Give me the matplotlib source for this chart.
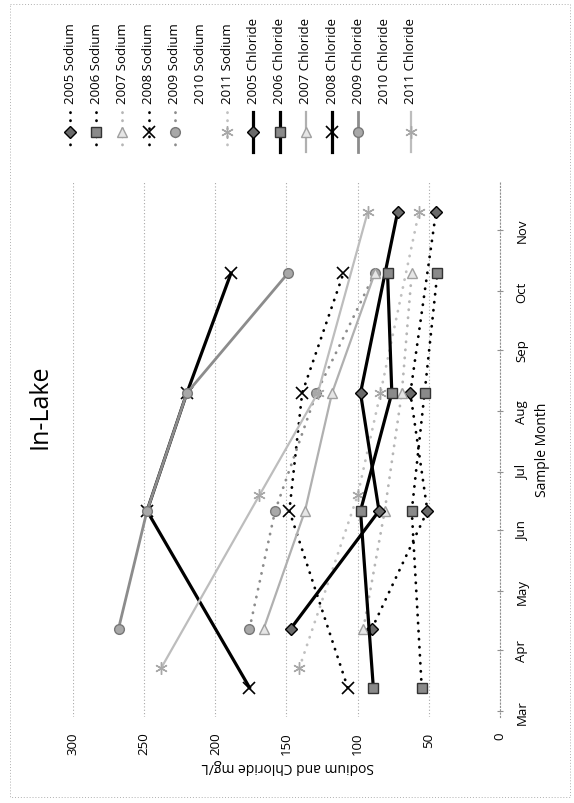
import pandas as pd
import matplotlib
matplotlib.use('Agg')
import matplotlib.pyplot as plt
import matplotlib.dates as mdates

plt.rcParams['font.family'] = ['Open Sans', 'DejaVu Sans']

# sample dates (month-day) and concentrations in mg/L
na05_d = ['04-12', '06-11', '08-10', '11-10']
na05 = [90, 51, 63, 45]
na06_d = ['03-13', '06-11', '08-10', '10-10']
na06 = [55, 62, 53, 44]
na07_d = ['04-12', '06-11', '08-10', '10-10']
na07 = [96, 81, 69, 62]
na08_d = ['03-13', '06-11', '08-10', '10-10']
na08 = [107, 148, 139, 110]
na09_d = ['04-12', '06-11', '08-10', '10-10']
na09 = [176, 158, 129, 88]
na11_d = ['03-23', '06-19', '08-10', '11-10']
na11 = [141, 100, 84, 57]

cl05_d = ['04-12', '06-11', '08-10', '11-10']
cl05 = [147, 85, 98, 72]
cl06_d = ['03-13', '06-11', '08-10', '10-10']
cl06 = [89, 98, 76, 79]
cl07_d = ['04-12', '06-11', '08-10', '10-10']
cl07 = [166, 137, 118, 88]
cl08_d = ['03-13', '06-11', '08-10', '10-10']
cl08 = [176, 248, 220, 189]
cl09_d = ['04-12', '06-11', '08-10', '10-10']
cl09 = [268, 248, 220, 149]
cl11_d = ['03-23', '06-19', '08-10', '11-10']
cl11 = [238, 169, 128, 93]

value_ticks = [0, 50, 100, 150, 200, 250, 300]


def to_dates(md):
    return pd.to_datetime(['2000-' + d for d in md])


DOT = (0, (0.1, 2.8))
series = [
    ('2005 Sodium', na05_d, na05, dict(color='black', ls=DOT, lw=2, dash_capstyle='round',
                                       marker='D', mfc='#6a6a6a', mec='black', ms=6.5)),
    ('2006 Sodium', na06_d, na06, dict(color='black', ls=DOT, lw=2, dash_capstyle='round',
                                       marker='s', mfc='#8a8a8a', mec='#333333', ms=7.5)),
    ('2007 Sodium', na07_d, na07, dict(color='#b5b5b5', ls=DOT, lw=2, dash_capstyle='round',
                                       marker='^', mfc='#e6e6e6', mec='#a0a0a0', ms=7)),
    ('2008 Sodium', na08_d, na08, dict(color='black', ls=DOT, lw=2, dash_capstyle='round',
                                       marker='x', mec='black', mew=1.2, ms=8)),
    ('2009 Sodium', na09_d, na09, dict(color='#8c8c8c', ls=DOT, lw=2, dash_capstyle='round',
                                       marker='o', mfc='#a8a8a8', mec='#777777', ms=7)),
    ('2010 Sodium', None, None, None),
    ('2011 Sodium', na11_d, na11, dict(color='#c0c0c0', ls=DOT, lw=2, dash_capstyle='round',
                                       marker=(6, 2, 0), mec='#a8a8a8', mew=1.0, ms=9)),
    ('2005 Chloride', cl05_d, cl05, dict(color='black', ls='-', lw=2.3,
                                         marker='D', mfc='#6a6a6a', mec='black', ms=6.5)),
    ('2006 Chloride', cl06_d, cl06, dict(color='black', ls='-', lw=2.3,
                                         marker='s', mfc='#8a8a8a', mec='#333333', ms=7.5)),
    ('2007 Chloride', cl07_d, cl07, dict(color='#b0b0b0', ls='-', lw=1.6,
                                         marker='^', mfc='#e6e6e6', mec='#a0a0a0', ms=7)),
    ('2008 Chloride', cl08_d, cl08, dict(color='black', ls='-', lw=2.3,
                                         marker='x', mec='black', mew=1.2, ms=8)),
    ('2009 Chloride', cl09_d, cl09, dict(color='#8c8c8c', ls='-', lw=2,
                                         marker='o', mfc='#a8a8a8', mec='#777777', ms=7)),
    ('2010 Chloride', None, None, None),
    ('2011 Chloride', cl11_d, cl11, dict(color='#bdbdbd', ls='-', lw=1.6,
                                         marker=(6, 2, 0), mec='#a8a8a8', mew=1.0, ms=9)),
]

W, H = 574, 804
fig = plt.figure(figsize=(W / 100, H / 100), dpi=100)

# overlay in pixel units for the page furniture (scan is rotated a quarter turn)
ov = fig.add_axes([0, 0, 1, 1], zorder=0)
ov.set_xlim(0, W)
ov.set_ylim(H, 0)
ov.axis('off')

ax = fig.add_axes([73 / W, 1 - 718 / H, 427 / W, 536 / H], zorder=1)
ax.patch.set_alpha(0)

for name, d, v, kw in series:
    if d is None:
        continue
    ax.plot(v, to_dates(d), **kw)

ax.set_xlim(300, 0)
ax.set_xticks(value_ticks)
ax.set_ylim(pd.Timestamp('2000-02-27'), pd.Timestamp('2000-11-26'))
ax.yaxis.set_major_locator(mdates.MonthLocator(bymonth=range(3, 12)))
ax.yaxis.set_major_formatter(mdates.DateFormatter('%b'))

ax.grid(axis='x', color='#a8a8a8', ls=(0, (1, 2)), lw=0.8)
for s in ['left', 'top', 'bottom']:
    ax.spines[s].set_visible(False)
ax.spines['right'].set_color('#909090')
ax.spines['right'].set_linestyle((0, (1, 2)))
ax.spines['right'].set_linewidth(0.8)

ax.tick_params(axis='x', length=0, labelrotation=90, pad=10.5, labelsize=9.5)
ax.tick_params(axis='y', left=False, right=True, labelleft=False, labelright=True,
               labelrotation=90, length=4, direction='inout', color='#909090',
               pad=9, labelsize=9.5)
plt.setp(ax.get_yticklabels(), va='center')

# chart border
ov.plot([10, 570, 570, 10, 10], [5, 5, 798, 798, 5], color='#b0b0b0', lw=0.7, ls=(0, (1, 2)))

ov.text(40, 407, 'In-Lake', rotation=90, ha='center', va='center', fontsize=18)
ov.text(288, 767, 'Sodium and Chloride mg/L', rotation=180, ha='center', va='center', fontsize=10)
ov.text(543, 450, 'Sample Month', rotation=90, ha='center', va='center', fontsize=10)

# legend, drawn by hand because the whole page is turned
for i, (name, d, v, kw) in enumerate(series):
    x = 70 + 26.2 * i
    ov.text(x, 104, name, rotation=90, ha='center', va='bottom', fontsize=9.5)
    if kw is None:
        continue
    line_kw = {k: val for k, val in kw.items() if k in ('color', 'ls', 'lw', 'dash_capstyle')}
    mark_kw = {k: val for k, val in kw.items() if k in ('marker', 'mfc', 'mec', 'mew', 'ms')}
    ov.plot([x, x], [113, 153], **line_kw)
    ov.plot([x], [133], ls='none', **mark_kw)

fig.savefig('out.png', dpi=100)
